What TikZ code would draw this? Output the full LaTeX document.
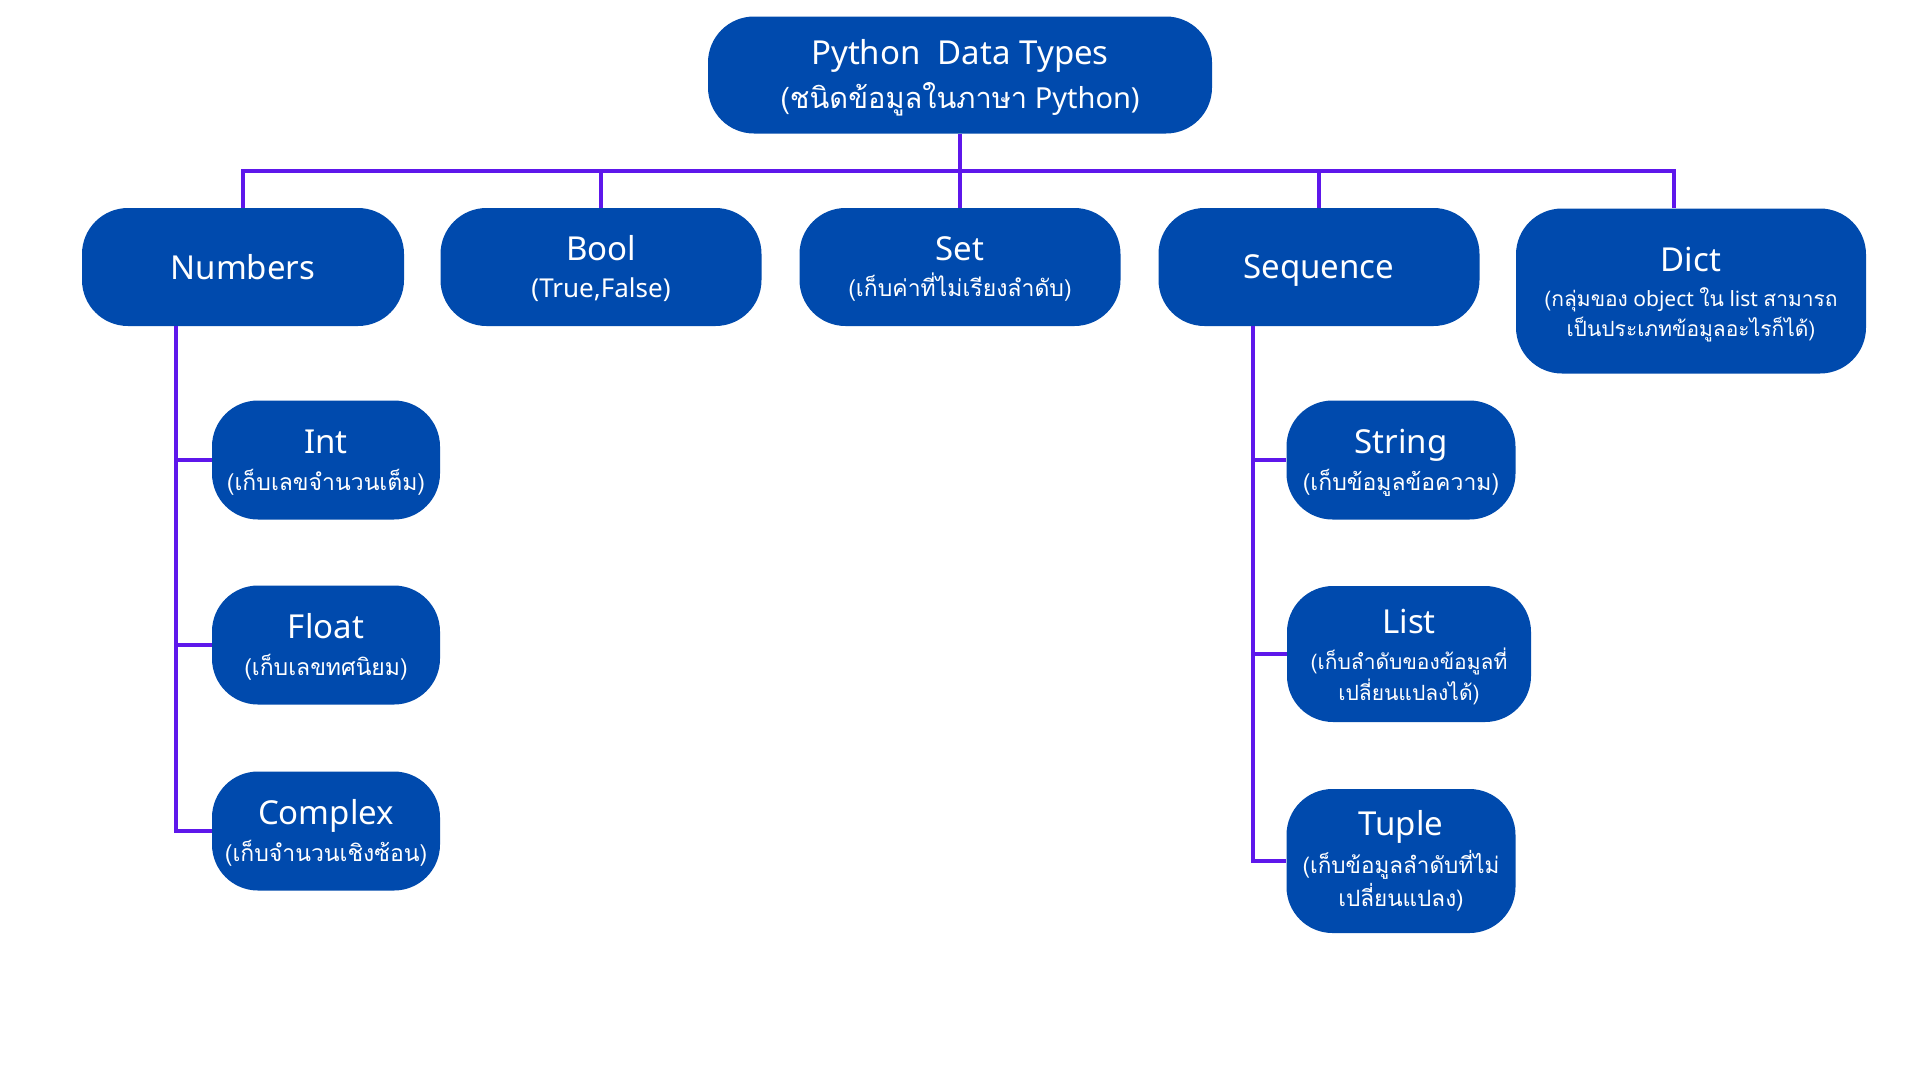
\documentclass[tikz,border=0pt]{standalone}
\usepackage{fontspec}
\setmainfont{Noto Sans}
\newfontfamily\thai[Script=Thai]{Loma}
\definecolor{boxblue}{HTML}{004AAD}
\definecolor{linepurple}{HTML}{5E17EB}
% #1 = font size
\newcommand\fz[1]{\fontsize{#1}{#1}\selectfont}
% top strut / bottom strut
\newcommand\tS[1]{\rule{0pt}{#1pt}}
\newcommand\bS{\rule[-12pt]{0pt}{0pt}}
\begin{document}
\begin{tikzpicture}[x=1pt,y=-1pt,
  box/.style={rectangle, rounded corners=46pt, fill=boxblue, text=white, align=center, inner sep=0pt,
    font={\fontsize{10}{30}\selectfont\lineskiplimit=-100pt\relax}},
  conn/.style={draw=linepurple, line width=4pt},
  ]
\useasboundingbox[fill=white] (0,0) rectangle (1920,1080);

% top
\node[box, minimum width=504pt, minimum height=117pt] (top) at (960,75)
  {\fz{33}\tS{34.6}Python~~Data Types\\[14pt]\fz{29}{\thai (ชนิดข้อมูลในภาษา} Python)\bS};

% row
\node[box, minimum width=322pt, minimum height=118pt] (numbers) at (243,267)
  {\fz{33}\tS{36}Numbers\bS};
\node[box, minimum width=321pt, minimum height=118pt] (bool) at (601,267)
  {\fz{33}\tS{36.7}Bool\\[7pt]\fz{26}(True,False)\bS};
\node[box, minimum width=321pt, minimum height=118pt] (set) at (960,267)
  {\fz{33}\tS{35.7}Set\\[6pt]\fz{23}\thai (เก็บค่าที่ไม่เรียงลำดับ)\bS};
\node[box, minimum width=321pt, minimum height=118pt] (sequence) at (1319,267)
  {\fz{33}\tS{34}Sequence\bS};
\node[box, minimum width=350pt, minimum height=165pt] (dict) at (1691,291)
  {\fz{33}\tS{38.4}Dict\\[5pt]\fz{21}{\thai (กลุ่มของ} object {\thai ใน} list {\thai สามารถ}\\[0pt]\fz{21}\thai เป็นประเภทข้อมูลอะไรก็ได้)\bS};

% numbers children
\node[box, minimum width=228pt, minimum height=119pt] (int) at (326,460)
  {\fz{33}\tS{35}Int\\[7pt]\fz{23}\thai (เก็บเลขจำนวนเต็ม)\bS};
\node[box, minimum width=228pt, minimum height=119pt] (float) at (326,645)
  {\fz{33}\tS{35}Float\\[7pt]\fz{23}\thai (เก็บเลขทศนิยม)\bS};
\node[box, minimum width=228pt, minimum height=119pt] (complex) at (326,831)
  {\fz{33}\tS{35}Complex\\[7pt]\fz{23}\thai (เก็บจำนวนเชิงซ้อน)\bS};

% sequence children
\node[box, minimum width=229pt, minimum height=119pt] (string) at (1401,460)
  {\fz{33}\tS{35}String\\[7pt]\fz{23}\thai (เก็บข้อมูลข้อความ)\bS};
\node[box, minimum width=244pt, minimum height=136pt] (list) at (1409,654)
  {\fz{33}\tS{37}List\\[6pt]\fz{21}\thai (เก็บลำดับของข้อมูลที่\\[1pt]\fz{21}\thai เปลี่ยนแปลงได้)\bS};
\node[box, minimum width=229pt, minimum height=144pt] (tuple) at (1401,861)
  {\fz{33}\tS{31.5}Tuple\\[8pt]\fz{22.5}\thai (เก็บข้อมูลลำดับที่ไม่\\[3.5pt]\fz{22.5}\thai เปลี่ยนแปลง)\bS};

% connectors
\coordinate (busR) at (1674,171);
\coordinate (ntop) at (176,326);
\coordinate (stop) at (1253,326);
\draw[conn] (numbers.north) |- (busR) -- (dict.north -| busR);
\draw[conn] (top.south) -- (top.south |- busR);
\draw[conn] (bool.north) -- (bool.north |- busR);
\draw[conn] (set.north) -- (set.north |- busR);
\draw[conn] (sequence.north) -- (sequence.north |- busR);

\draw[conn] (ntop) |- (complex.west);
\draw[conn] (ntop |- int.west) -- (int.west);
\draw[conn] (ntop |- float.west) -- (float.west);

\draw[conn] (stop) |- (tuple.west);
\draw[conn] (stop |- string.west) -- (string.west);
\draw[conn] (stop |- list.west) -- (list.west);
\end{tikzpicture}
\end{document}
